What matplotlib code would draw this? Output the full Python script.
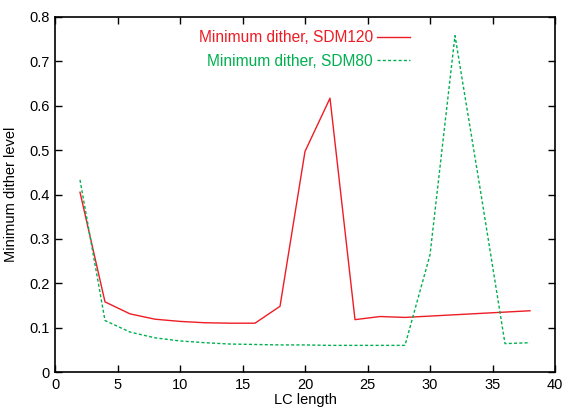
import matplotlib
matplotlib.use("Agg")
import matplotlib.pyplot as plt

plt.rcParams['font.family'] = ['Liberation Sans', 'DejaVu Sans']

x = [2, 4, 6, 8, 10, 12, 14, 16, 18, 20, 22, 24, 26, 28, 30, 32, 34, 36, 38]
sdm120 = [0.405, 0.158, 0.131, 0.119, 0.114, 0.111, 0.110, 0.110, 0.148, 0.497, 0.617,
          0.118, 0.125, 0.123, 0.126, 0.129, 0.132, 0.135, 0.138]
sdm80 = [0.433, 0.116, 0.090, 0.077, 0.070, 0.066, 0.063, 0.062, 0.061, 0.061, 0.060,
         0.060, 0.060, 0.060, 0.264, 0.758, 0.415, 0.064, 0.066]
xticks = [0, 5, 10, 15, 20, 25, 30, 35, 40]
yticks = [0, 0.1, 0.2, 0.3, 0.4, 0.5, 0.6, 0.7, 0.8]

fig = plt.figure(figsize=(5.68, 4.08), dpi=100)
ax = fig.add_axes([55/568, 36/408, 500/568, 355/408])

ax.plot(x, sdm120, color='#ee1c25', lw=1.0, label='Minimum dither, SDM120')
ax.plot(x, sdm80, color='#00b050', lw=1.0, linestyle=(0, (2.2, 1.6)), label='Minimum dither, SDM80')

ax.set_xlim(0, 40)
ax.set_ylim(0, 0.8)
ax.set_xticks(xticks)
ax.set_xticklabels([str(t) for t in xticks])
ax.set_yticks(yticks)
ax.set_yticklabels(['0', '0.1', '0.2', '0.3', '0.4', '0.5', '0.6', '0.7', '0.8'])
ax.tick_params(direction='in', top=True, right=True, length=5, width=1, labelsize=10.5, pad=4)
for s in ax.spines.values():
    s.set_linewidth(1.2)
ax.set_xlabel('LC length', fontsize=10.5, labelpad=1)
ax.set_ylabel('Minimum dither level', fontsize=10.5, labelpad=8)

leg = ax.legend(loc='upper right', bbox_to_anchor=(410/568, 378/408), bbox_transform=fig.transFigure,
                frameon=False, markerfirst=False, labelcolor='linecolor', fontsize=11.2,
                handlelength=2.1, handletextpad=0.3, labelspacing=0.55, borderaxespad=0, borderpad=0.0)

fig.savefig('out.png', dpi=100)
